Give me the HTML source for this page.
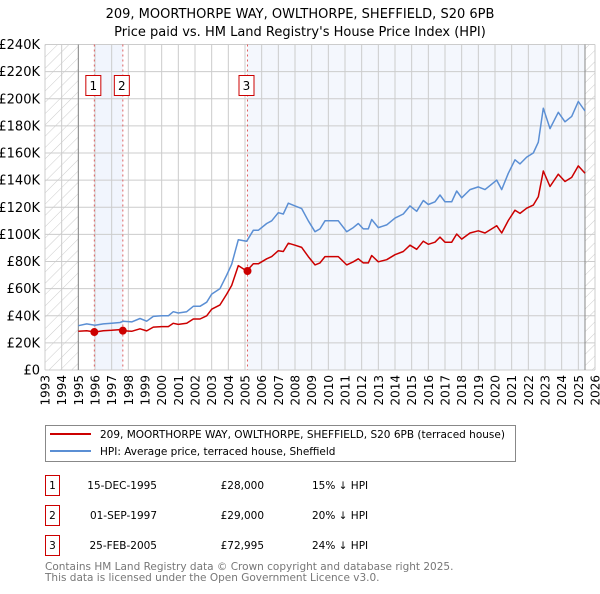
<!DOCTYPE html>
<html><head><meta charset="utf-8"><style>
body{margin:0;background:#fff;width:600px;height:590px;overflow:hidden;font-family:"DejaVu Sans","Liberation Sans",sans-serif;}
svg text{font-family:"DejaVu Sans","Liberation Sans",sans-serif;}
</style></head><body>
<svg id="chart" width="600" height="590" viewBox="0 0 600 590" xmlns="http://www.w3.org/2000/svg">
<defs><pattern id="hatch" patternUnits="userSpaceOnUse" width="8" height="8" patternTransform="rotate(45)"><line x1="0" y1="0" x2="0" y2="8" stroke="#ccc" stroke-width="1"/></pattern></defs>
<text x="300" y="18" text-anchor="middle" font-size="13">209, MOORTHORPE WAY, OWLTHORPE, SHEFFIELD, S20 6PB</text>
<text x="300" y="36" text-anchor="middle" font-size="13">Price paid vs. HM Land Registry's House Price Index (HPI)</text>
<g id="plot"></g>
<g>
<rect x="45.5" y="425.5" width="470" height="36" fill="#fff" stroke="#888"/>
<line x1="50" y1="434" x2="91" y2="434" stroke="#cc0000" stroke-width="2"/>
<text x="100" y="438" font-size="10.5">209, MOORTHORPE WAY, OWLTHORPE, SHEFFIELD, S20 6PB (terraced house)</text>
<line x1="50" y1="451" x2="91" y2="451" stroke="#5b8fd4" stroke-width="2"/>
<text x="100" y="455" font-size="10.5">HPI: Average price, terraced house, Sheffield</text>
</g>
<g font-size="10.5">
<rect x="45.5" y="475.5" width="14" height="20" fill="#fff" stroke="#cc0000"/><text x="52.5" y="489" text-anchor="middle">1</text>
<text x="157" y="489" text-anchor="end">15-DEC-1995</text><text x="264" y="489" text-anchor="end">£28,000</text><text x="312" y="489">15% ↓ HPI</text>
<rect x="45.5" y="505.5" width="14" height="20" fill="#fff" stroke="#cc0000"/><text x="52.5" y="519" text-anchor="middle">2</text>
<text x="157" y="519" text-anchor="end">01-SEP-1997</text><text x="264" y="519" text-anchor="end">£29,000</text><text x="312" y="519">20% ↓ HPI</text>
<rect x="45.5" y="535.5" width="14" height="20" fill="#fff" stroke="#cc0000"/><text x="52.5" y="549" text-anchor="middle">3</text>
<text x="157" y="549" text-anchor="end">25-FEB-2005</text><text x="264" y="549" text-anchor="end">£72,995</text><text x="312" y="549">24% ↓ HPI</text>
</g>
<text x="45" y="570" font-size="10.5" fill="#777">Contains HM Land Registry data © Crown copyright and database right 2025.</text>
<text x="45" y="581" font-size="10.5" fill="#777">This data is licensed under the Open Government Licence v3.0.</text>
</svg>
<script>
const years=[1995.0,1995.5,1996.0,1996.5,1997.0,1997.5,1997.7,1998.2,1998.7,1999.1,1999.5,2000.0,2000.4,2000.7,2001.0,2001.5,2001.9,2002.3,2002.7,2003.0,2003.5,2003.9,2004.2,2004.6,2005.1,2005.5,2005.8,2006.3,2006.6,2007.0,2007.3,2007.6,2008.0,2008.4,2008.8,2009.2,2009.5,2009.8,2010.3,2010.6,2011.1,2011.5,2011.8,2012.1,2012.4,2012.6,2013.0,2013.5,2014.0,2014.5,2014.9,2015.3,2015.7,2016.0,2016.4,2016.7,2017.0,2017.4,2017.7,2018.0,2018.5,2019.0,2019.4,2019.8,2020.1,2020.4,2020.8,2021.2,2021.5,2021.9,2022.3,2022.6,2022.9,2023.3,2023.8,2024.2,2024.6,2025.0,2025.4];
const hpi=[32.7,34,33,34,34.5,35,36,35.5,38,36,39.5,40,40,43,42,43,47,47,50,56,60,70,78,96,95,103,103,108,110,116,115,123,121,119,110,102,104,110,110,110,102,105,108,104,104,111,105,107,112,115,121,117,125,122,124,129,124,124,132,127,133,135,133,137,140,133,145,155,152,157,160,168,193,178,190,183,187,198,191];
const property=[28.5,29,28,29,29.3,29.8,29,28.5,30.4,28.8,31.6,32,32,34.4,33.6,34.4,37.6,37.6,40,44.8,48,56,62.4,77,73,78.3,78.3,82,83.6,88,87.4,93.5,92,90.4,83.6,77.5,79,83.6,83.6,83.6,77.5,79.8,82,79,79,84.4,79.8,81.3,85,87.4,92,89,95,92.7,94.2,98,94.2,94.2,100.3,96.5,101,102.6,101,104,106.4,101,110.2,117.8,115.5,119.3,121.6,127.7,146.7,135.3,144.4,139,142,150.5,145];
const saleYears=[1995.96,1997.67,2005.15];
const salePrices=[28,29,72.995];
const saleLabels=["1","2","3"];
const yTicks=[0,20,40,60,80,100,120,140,160,180,200,220,240];
const yTickLabels=["£0","£20K","£40K","£60K","£80K","£100K","£120K","£140K","£160K","£180K","£200K","£220K","£240K"];
const xTicks=[1993,1994,1995,1996,1997,1998,1999,2000,2001,2002,2003,2004,2005,2006,2007,2008,2009,2010,2011,2012,2013,2014,2015,2016,2017,2018,2019,2020,2021,2022,2023,2024,2025,2026];

const L=45,R=595,T=44.5,B=370;
const x=v=>L+(v-1993)/(2026-1993)*(R-L);
const y=v=>B-v/240*(B-T);
const NS="http://www.w3.org/2000/svg";
const g=document.getElementById('plot');
function mk(tag,attrs){const e=document.createElementNS(NS,tag);for(const k in attrs)e.setAttribute(k,attrs[k]);g.appendChild(e);return e;}
const dataEnd=2025.4;
let e=mk('rect',{x:L,y:T,width:R-L,height:B-T,fill:'#fff'});


e=mk('rect',{x:x(saleYears[0]),y:T,width:x(saleYears[1])-x(saleYears[0]),height:B-T,fill:'#f1f5fd'});


e=mk('rect',{x:x(saleYears[2]),y:T,width:x(dataEnd)-x(saleYears[2]),height:B-T,fill:'#f4f7fd'});


e=mk('rect',{x:L,y:T,width:x(1995)-L,height:B-T,fill:'url(#hatch)'});


e=mk('rect',{x:x(dataEnd),y:T,width:R-x(dataEnd),height:B-T,fill:'url(#hatch)'});


xTicks.forEach(t=>{const l=mk('line',{x1:x(t),x2:x(t),y1:T,y2:B,stroke:'#ccc','stroke-width':1});


const tx=mk('text',{x:0,y:0,'font-size':12,'text-anchor':'end',transform:`translate(${x(t)+4.5},375) rotate(-90)`});tx.textContent=t;

});
yTicks.forEach((t,i)=>{const l=mk('line',{x1:L,x2:R,y1:y(t),y2:y(t),stroke:'#ccc','stroke-width':1});


const tx=mk('text',{x:40,y:y(t)+4.5,'font-size':13,'text-anchor':'end'});tx.textContent=yTickLabels[i];

});
e=mk('line',{x1:x(1995),x2:x(1995),y1:T,y2:B,stroke:'#888'});


e=mk('line',{x1:x(dataEnd),x2:x(dataEnd),y1:T,y2:B,stroke:'#888'});


saleYears.forEach((s,i)=>{const l=mk('line',{x1:x(s),x2:x(s),y1:T,y2:B,stroke:'#e06060','stroke-dasharray':'2,3','stroke-width':1});


const r=mk('rect',{x:x(s)-8.5,y:75.5,width:15,height:20,fill:'#fff',stroke:'#cc0000'});


const tx=mk('text',{x:x(s)-1,y:90,'font-size':12,'text-anchor':'middle'});tx.textContent=saleLabels[i];

});
function path(vals){return vals.map((v,i)=>(i?'L':'M')+x(years[i]).toFixed(1)+','+y(v).toFixed(1)).join('');}
e=mk('path',{d:path(hpi),fill:'none',stroke:'#5b8fd4','stroke-width':1.5,'stroke-linejoin':'round'});


e=mk('path',{d:path(property),fill:'none',stroke:'#cc0000','stroke-width':1.5,'stroke-linejoin':'round'});


saleYears.forEach((s,i)=>{const c=mk('circle',{cx:x(s),cy:y(salePrices[i]),r:4,fill:'#cc0000'});

});
</script>
</body></html>
